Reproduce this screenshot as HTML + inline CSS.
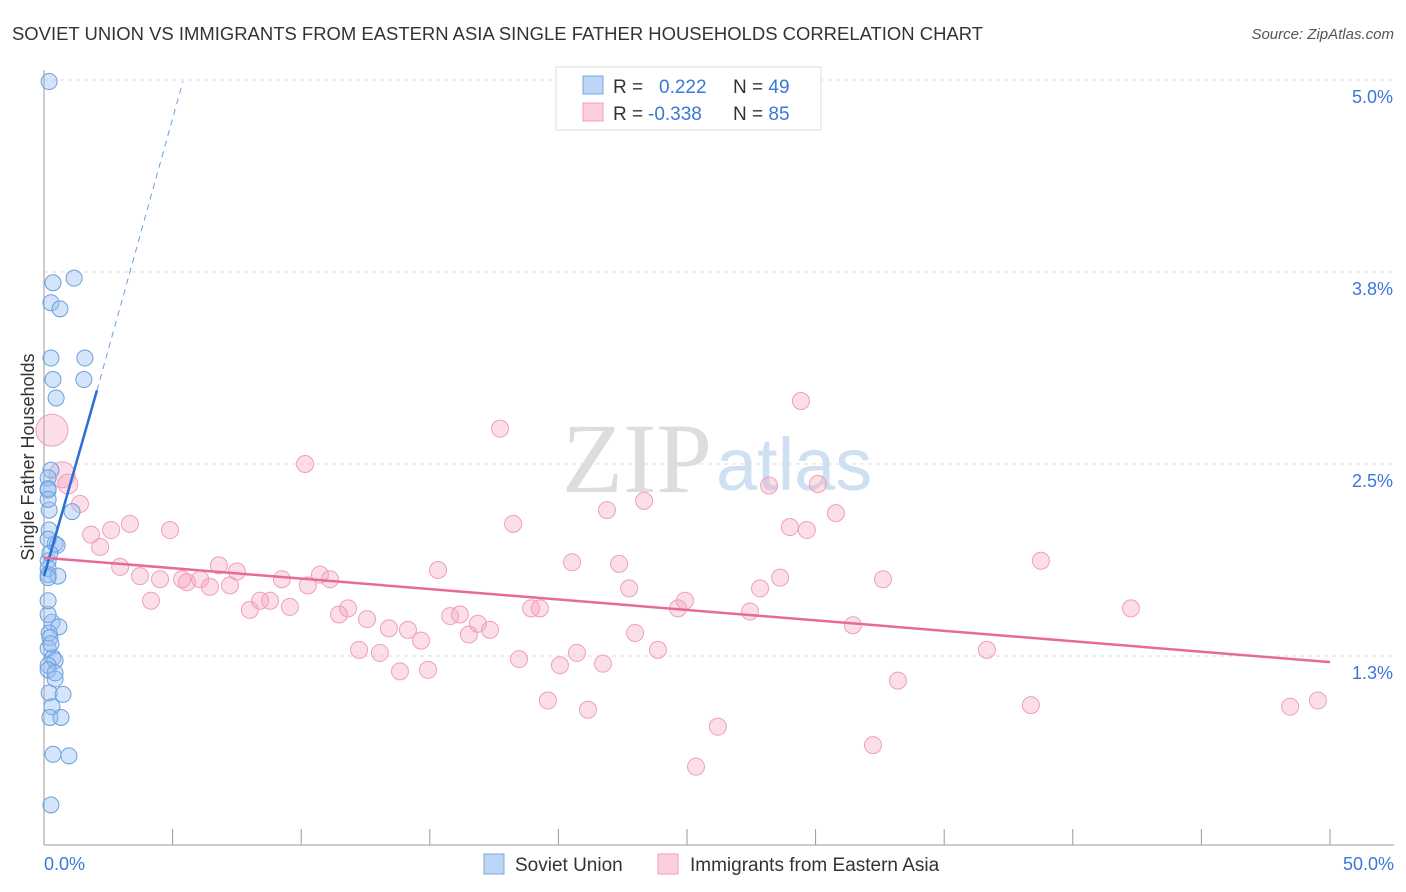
<!DOCTYPE html>
<html><head><meta charset="utf-8"><style>
body{margin:0;background:#fff;font-family:"Liberation Sans",sans-serif;}
svg{display:block}
</style></head><body>
<svg id="chart" width="1406" height="892">
<text x="12" y="40" font-size="18" fill="#333" textLength="971" lengthAdjust="spacingAndGlyphs">SOVIET UNION VS IMMIGRANTS FROM EASTERN ASIA SINGLE FATHER HOUSEHOLDS CORRELATION CHART</text>
<text x="1394" y="39" font-size="15" fill="#555" text-anchor="end" font-style="italic">Source: ZipAtlas.com</text>
<text x="712" y="492" font-size="100" fill="#ddd" text-anchor="end" font-family="Liberation Serif">ZIP</text>
<text x="716" y="490" font-size="74" fill="#cfe0f3">atlas</text>
<g id="grid"></g><g id="axes"></g><g id="marks"></g>
<text transform="translate(34,457) rotate(-90)" font-size="18" fill="#333" text-anchor="middle">Single Father Households</text>
<g>
<rect x="556" y="67" width="265" height="63" fill="#fff" stroke="#ddd"/>
<rect x="583" y="76" width="20" height="18" fill="#bcd6f5" stroke="#7aa8e0"/>
<rect x="583" y="103" width="20" height="18" fill="#fbd0dc" stroke="#f0a0b8"/>
<text x="613" y="93" font-size="19" fill="#333">R = <tspan fill="#3a78d8" x="659">0.222</tspan><tspan x="733" fill="#333">N = </tspan><tspan fill="#3a78d8">49</tspan></text>
<text x="613" y="120" font-size="19" fill="#333">R = <tspan fill="#3a78d8" x="648">-0.338</tspan><tspan x="733" fill="#333">N = </tspan><tspan fill="#3a78d8">85</tspan></text>
</g>
<g>
<rect x="484" y="854" width="20" height="20" fill="#bcd6f5" stroke="#7aa8e0"/>
<text x="515" y="871" font-size="19" fill="#333">Soviet Union</text>
<rect x="658" y="854" width="20" height="20" fill="#fbd0dc" stroke="#f0a0b8"/>
<text x="690" y="871" font-size="19" fill="#333">Immigrants from Eastern Asia</text>
</g>
</svg>
<script>
const yTicks=[5.0,3.75,2.5,1.25];
const yTickLabels=["5.0%","3.8%","2.5%","1.3%"];
const blueX=[0.2,1.17,0.35,0.27,0.62,0.27,1.59,0.35,1.55,0.47,0.27,0.16,0.16,0.2,1.09,0.2,0.43,0.51,0.16,0.16,0.16,0.54,0.16,0.31,0.58,0.2,0.23,0.16,0.35,0.43,0.16,0.16,0.43,0.2,0.74,0.31,0.23,0.66,0.35,0.97,0.27,0.16,0.16,0.16,0.16,0.27,0.16,0.43,0.23];
const blueY=[4.99,3.71,3.68,3.55,3.51,3.19,3.19,3.05,3.05,2.93,2.46,2.41,2.33,2.2,2.19,2.07,1.98,1.97,1.87,1.82,1.78,1.77,1.76,1.47,1.44,1.40,1.37,1.30,1.24,1.22,1.19,1.16,1.10,1.01,1.00,0.92,0.85,0.85,0.61,0.60,0.28,2.34,2.01,2.27,1.52,1.33,1.61,1.14,1.92];
const pinkX=[0.31,0.70,0.93,1.40,1.83,2.18,2.61,3.34,4.9,2.96,3.73,4.16,4.51,5.37,5.56,6.07,6.45,6.8,7.23,7.5,8.0,8.4,8.79,9.25,9.56,10.15,10.26,10.73,11.12,11.47,11.82,12.25,12.56,13.06,13.41,13.84,14.15,14.66,14.93,15.32,15.79,16.17,16.52,16.87,17.34,17.73,18.24,18.47,18.94,19.28,19.59,20.06,20.53,20.72,21.15,21.73,21.89,22.36,22.75,22.98,23.33,23.87,24.65,24.92,26.2,25.35,27.45,27.84,28.19,28.62,29.0,29.43,29.66,30.09,30.79,31.45,32.23,32.62,33.2,36.66,38.37,38.76,42.26,48.45,49.53];
const pinkY=[2.72,2.43,2.37,2.24,2.04,1.96,2.07,2.11,2.07,1.83,1.77,1.61,1.75,1.75,1.73,1.75,1.70,1.84,1.71,1.80,1.55,1.61,1.61,1.75,1.57,2.50,1.71,1.78,1.75,1.52,1.56,1.29,1.49,1.27,1.43,1.15,1.42,1.35,1.16,1.81,1.51,1.52,1.39,1.46,1.42,2.73,2.11,1.23,1.56,1.56,0.96,1.19,1.86,1.27,0.90,1.20,2.20,1.85,1.69,1.40,2.26,1.29,1.56,1.61,0.79,0.53,1.54,1.69,2.36,1.76,2.09,2.91,2.07,2.37,2.18,1.45,0.67,1.75,1.09,1.29,0.93,1.87,1.56,0.92,0.96];
const pinkR=[16,13,10].concat(Array(82).fill(8.5));
const X0=44,X1=1330,Y0=848,PX=153.6;
const sx=v=>X0+(v/50)*(X1-X0), sy=v=>Y0-v*PX;
const NS="http://www.w3.org/2000/svg";
const mk=(t,a,p)=>{const e=document.createElementNS(NS,t);for(const k in a)e.setAttribute(k,a[k]);p.appendChild(e);return e;};
const grid=document.getElementById('grid'),axes=document.getElementById('axes'),marks=document.getElementById('marks');
yTicks.forEach((v,i)=>{
 const l=mk('line',{x1:X0,x2:1394,y1:sy(v),y2:sy(v),stroke:'#ddd','stroke-dasharray':'4,4'},grid);
 
 
 const t=mk('text',{x:1393,y:sy(v)+23,'font-size':18,fill:'#3a78d8','text-anchor':'end'},axes);
 t.textContent=yTickLabels[i];
 
 
});
const ax=mk('line',{x1:X0,x2:X0,y1:70,y2:845,stroke:'#999'},axes);


const bx=mk('line',{x1:X0,x2:1394,y1:845,y2:845,stroke:'#999'},axes);


for(let i=0;i<=10;i++){const x=sx(i*5);const t=mk('line',{x1:x,x2:x,y1:829,y2:845,stroke:'#999'},axes);
 
 }
[["0.0%",44,'start'],["50.0%",1394,'end']].forEach(a=>{const t=mk('text',{x:a[1],y:870,'font-size':18,fill:'#3a78d8','text-anchor':a[2]},axes);t.textContent=a[0];
 
 });
pinkX.forEach((v,i)=>{const c=mk('circle',{cx:sx(v),cy:sy(pinkY[i]),r:pinkR[i],fill:'rgba(245,160,185,0.35)',stroke:'#eea0b8','stroke-width':1},marks);
 
 });
blueX.forEach((v,i)=>{const c=mk('circle',{cx:sx(v),cy:sy(blueY[i]),r:8,fill:'rgba(150,190,240,0.4)',stroke:'#6a9fe0','stroke-width':1},marks);
 
 });
const bT=[[0,1.77],[2.06,2.98],[5.4,4.99]];
const pT=[[0,1.89],[50,1.21]];
let l=mk('line',{x1:sx(bT[0][0]),y1:sy(bT[0][1]),x2:sx(bT[1][0]),y2:sy(bT[1][1]),stroke:'#2a6fd6','stroke-width':2.5},marks);


l=mk('line',{x1:sx(bT[1][0]),y1:sy(bT[1][1]),x2:sx(bT[2][0]),y2:sy(bT[2][1]),stroke:'#6a9fe0','stroke-width':1,'stroke-dasharray':'6,5'},marks);


l=mk('line',{x1:sx(pT[0][0]),y1:sy(pT[0][1]),x2:sx(pT[1][0]),y2:sy(pT[1][1]),stroke:'#e86a98','stroke-width':2.5},marks);


</script>
</body></html>
